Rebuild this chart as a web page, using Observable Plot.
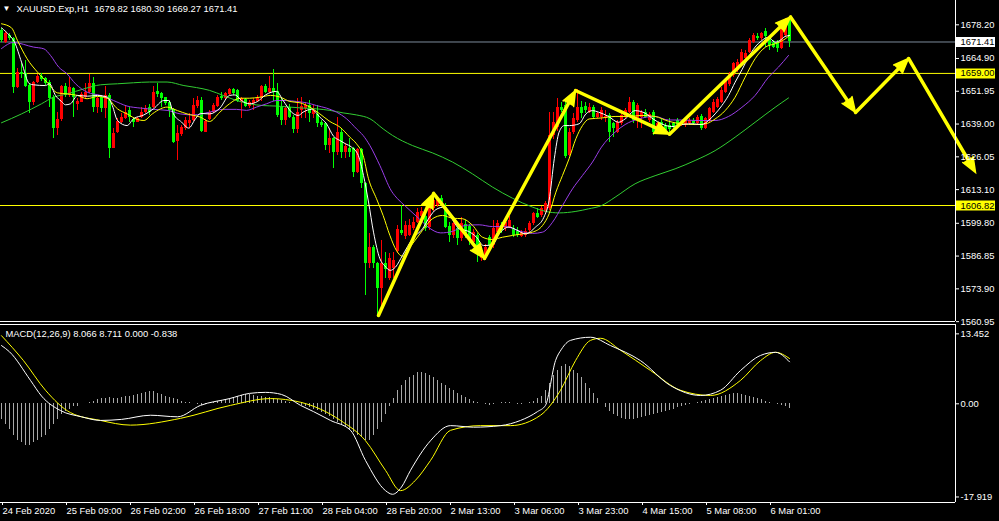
<!DOCTYPE html>
<html><head><meta charset="utf-8">
<script src="https://cdn.jsdelivr.net/npm/d3@7"></script>
<script src="https://cdn.jsdelivr.net/npm/@observablehq/plot@0.6"></script>
<style>
html,body{margin:0;padding:0;background:#000;}
#chart{position:relative;width:999px;height:521px;background:#000;overflow:hidden;}
#chart svg{display:block;overflow:visible;}
</style></head><body><div id="chart"></div>
<script>
// ---------- DATA ----------
const opens = [
1676.0,1671.4,1674.0,1672.7,1653.6,1659.5,1658.8,1654.2,1647.4,1655.5,
1657.8,1656.9,1655.5,1649.6,1637.1,1640.6,1653.8,1650.3,1652.9,1646.6,
1647.6,1649.6,1651.6,1654.9,1645.7,1649.6,1645.0,1650.3,1629.5,1635.5,
1639.8,1641.3,1644.3,1640.8,1639.8,1641.7,1643.4,1645.7,1645.7,1651.9,
1650.9,1649.4,1647.4,1644.6,1632.1,1634.7,1637.1,1639.1,1640.4,1646.1,
1648.3,1635.8,1640.8,1643.7,1646.1,1649.9,1649.2,1650.5,1652.7,1652.3,
1647.4,1648.7,1646.1,1647.0,1647.9,1649.0,1654.0,1651.6,1653.2,1651.9,
1645.5,1640.4,1645.7,1641.7,1636.9,1644.4,1645.3,1646.3,1642.6,1642.6,
1639.8,1639.1,1630.5,1633.2,1627.6,1635.8,1627.6,1629.2,1629.5,1620.0,
1629.0,1615.4,1583.8,1590.4,1583.8,1574.2,1583.8,1577.9,1581.8,1588.8,
1597.0,1594.5,1595.0,1597.6,1600.2,1602.5,1602.5,1598.3,1605.6,1606.8,
1609.7,1606.2,1598.6,1595.0,1597.6,1593.7,1599.2,1598.6,1592.3,1595.0,
1586.0,1585.8,1594.3,1591.0,1596.3,1599.0,1597.6,1598.3,1597.6,1596.5,
1594.7,1595.0,1597.0,1599.6,1603.5,1602.9,1604.2,1605.5,1634.5,1637.8,
1645.7,1646.3,1626.6,1635.8,1640.4,1645.7,1646.1,1643.7,1645.6,1641.4,
1641.7,1641.0,1642.4,1639.1,1635.8,1639.1,1641.7,1643.7,1647.6,1641.0,
1641.7,1643.7,1640.4,1643.7,1637.1,1639.7,1638.4,1638.4,1639.1,1640.4,
1638.4,1638.4,1639.1,1640.4,1639.1,1642.0,1637.1,1640.4,1643.7,1645.6,
1647.6,1651.6,1654.6,1658.2,1660.1,1662.8,1664.8,1667.4,1671.3,1673.7,
1672.7,1675.7,1672.7,1671.3,1671.3,1668.7,1674.0,1679.82];
const highs = [
1676.6,1675.6,1674.6,1673.3,1660.8,1662.8,1664.1,1654.9,1655.8,1658.4,
1658.9,1657.5,1656.2,1650.3,1643.7,1654.2,1654.9,1657.5,1653.6,1649.0,
1651.6,1654.9,1658.4,1657.5,1649.6,1650.3,1654.0,1650.9,1637.4,1641.1,
1643.0,1646.3,1645.7,1641.7,1641.7,1645.7,1646.3,1646.6,1654.0,1654.9,
1651.6,1649.6,1648.3,1645.0,1638.4,1638.4,1641.7,1643.0,1649.0,1650.0,
1649.6,1640.8,1644.4,1647.0,1650.3,1651.3,1651.6,1652.9,1652.9,1652.7,
1649.6,1649.2,1648.3,1649.0,1650.3,1654.2,1654.5,1657.8,1660.6,1654.9,
1649.0,1646.1,1646.6,1642.4,1649.0,1649.6,1647.4,1648.3,1646.3,1646.3,
1640.4,1639.8,1637.1,1633.8,1641.7,1637.1,1631.2,1633.2,1629.9,1629.2,
1629.2,1616.0,1595.6,1591.0,1584.4,1593.0,1588.1,1587.7,1588.4,1598.9,
1606.8,1600.5,1601.3,1602.2,1605.8,1606.0,1604.0,1607.5,1612.1,1610.1,
1610.8,1607.5,1600.2,1601.6,1600.2,1602.0,1601.0,1599.2,1597.5,1595.6,
1590.5,1591.5,1595.0,1600.9,1600.9,1600.2,1601.3,1602.3,1598.9,1598.0,
1597.0,1597.6,1600.5,1604.2,1605.8,1606.5,1608.6,1643.7,1643.7,1649.2,
1647.4,1648.3,1637.1,1643.0,1652.7,1647.9,1647.4,1647.0,1646.3,1643.7,
1645.6,1644.3,1643.0,1639.7,1640.4,1643.0,1645.0,1649.3,1648.3,1647.0,
1644.3,1644.6,1643.7,1644.3,1639.7,1640.7,1639.1,1641.0,1639.7,1641.0,
1640.4,1641.0,1641.0,1641.0,1642.4,1642.8,1641.7,1645.6,1648.5,1649.3,
1653.6,1656.9,1659.5,1663.4,1664.4,1668.3,1668.0,1672.7,1674.9,1674.6,
1675.3,1676.6,1673.3,1672.0,1672.0,1679.2,1680.6,1680.30];
const lows = [
1671.4,1670.7,1672.0,1651.0,1653.2,1656.9,1653.6,1643.1,1646.3,1654.9,
1655.8,1654.2,1645.7,1633.2,1634.5,1640.0,1649.6,1649.6,1641.7,1644.3,
1647.4,1649.0,1651.0,1643.7,1643.0,1643.7,1641.3,1625.3,1629.2,1635.1,
1639.1,1640.8,1639.8,1637.8,1639.5,1641.3,1643.0,1642.4,1645.0,1649.6,
1645.7,1646.3,1641.7,1631.2,1624.6,1634.2,1636.5,1637.1,1640.0,1645.0,
1635.8,1635.5,1640.4,1643.0,1645.7,1648.3,1648.7,1650.3,1650.3,1647.4,
1641.3,1645.7,1645.3,1644.4,1647.4,1647.9,1651.0,1651.0,1647.9,1641.7,
1638.4,1638.4,1641.1,1635.1,1635.1,1641.3,1641.1,1639.8,1641.1,1637.8,
1637.8,1628.6,1627.3,1621.3,1626.6,1625.3,1625.3,1625.9,1618.0,1619.3,
1613.7,1571.3,1581.8,1581.8,1562.7,1564.7,1577.9,1577.2,1577.9,1588.0,
1595.0,1593.5,1594.4,1597.0,1599.6,1601.0,1596.5,1597.0,1604.5,1606.0,
1606.5,1597.6,1592.3,1593.6,1591.0,1592.5,1593.7,1591.0,1591.0,1584.4,
1584.8,1585.0,1589.7,1590.0,1595.6,1595.6,1596.5,1597.6,1594.3,1594.0,
1594.0,1594.3,1596.3,1599.0,1601.5,1602.0,1603.5,1604.8,1633.0,1636.0,
1643.7,1625.3,1626.0,1635.0,1639.8,1641.0,1643.0,1643.0,1641.0,1641.0,
1640.4,1639.7,1631.8,1633.8,1635.1,1638.4,1641.0,1643.0,1639.1,1637.1,
1637.1,1641.0,1639.7,1634.5,1636.4,1637.5,1635.4,1635.1,1637.1,1637.8,
1638.0,1637.8,1638.4,1638.4,1638.4,1636.4,1636.7,1639.7,1643.0,1645.0,
1647.0,1650.9,1653.8,1657.5,1659.5,1662.1,1664.1,1666.7,1670.7,1672.0,
1672.0,1669.4,1668.0,1668.7,1667.4,1668.3,1673.3,1669.27];
const closes = [
1672.0,1674.6,1672.7,1653.6,1659.5,1658.5,1654.0,1647.4,1655.5,1657.8,
1656.6,1655.2,1649.2,1637.1,1640.8,1653.8,1650.3,1653.6,1649.6,1647.9,
1650.5,1651.3,1654.9,1645.7,1649.0,1645.0,1650.3,1629.5,1635.1,1640.0,
1641.7,1643.7,1641.7,1639.8,1641.1,1643.7,1645.3,1643.7,1651.3,1650.7,
1649.0,1647.0,1644.3,1631.8,1635.1,1637.8,1640.4,1640.4,1646.3,1648.3,
1636.1,1640.0,1643.7,1646.3,1649.6,1649.0,1650.9,1652.7,1650.9,1647.9,
1649.0,1646.1,1647.7,1648.3,1649.0,1654.0,1651.6,1653.2,1651.6,1642.4,
1640.4,1645.3,1641.7,1636.9,1643.7,1646.1,1646.3,1643.0,1644.4,1639.1,
1638.4,1630.5,1633.2,1627.6,1635.5,1627.6,1630.3,1627.9,1619.7,1629.0,
1615.4,1583.8,1590.4,1583.8,1574.2,1583.8,1581.5,1585.8,1585.1,1597.2,
1595.6,1599.0,1599.0,1600.2,1603.9,1604.5,1597.6,1606.2,1608.8,1609.7,
1608.0,1598.3,1595.0,1599.6,1593.7,1599.6,1595.6,1593.4,1596.3,1587.3,
1589.0,1590.4,1591.0,1597.6,1599.6,1597.0,1600.2,1600.9,1595.0,1595.0,
1596.3,1596.5,1599.6,1603.5,1602.2,1605.5,1607.5,1634.5,1639.8,1645.7,
1644.3,1626.3,1635.8,1641.3,1645.7,1643.0,1644.3,1645.7,1641.7,1643.0,
1644.3,1642.0,1635.8,1637.1,1639.7,1642.4,1644.3,1647.6,1640.4,1646.3,
1643.7,1641.7,1642.8,1635.8,1639.1,1638.4,1636.4,1636.7,1637.8,1638.4,
1639.7,1640.4,1640.4,1639.1,1641.7,1637.1,1641.0,1645.0,1647.6,1648.5,
1652.2,1655.9,1658.6,1662.8,1663.4,1667.4,1666.7,1672.0,1674.0,1672.7,
1674.6,1673.6,1670.0,1669.4,1668.7,1677.9,1679.9,1671.41];

// moving averages: [bar index, price]
const maWhite = [[0,1677],[2,1674.0],[3.25,1671.4],[5,1663.5],[7,1654.9],[8,1654.5],[11,1654.2],[12,1654.9],[13.5,1650.3],[15,1647.9],[16,1646.6],[17.25,1647.0],[19,1650.3],[21.5,1650.0],[24,1650.3],[26.5,1649.6],[27.7,1646.3],[29,1640.4],[31.4,1638.4],[33,1641.1],[35.6,1642.6],[38,1645.0],[40.6,1648.3],[41.8,1648.3],[43,1643.0],[45,1639.8],[46.8,1637.4],[48.5,1641.1],[49.75,1643.2],[52,1643.0],[54.6,1645.3],[57,1650.3],[58.4,1650.5],[60,1648.3],[62,1647.0],[64,1647.9],[66,1650.5],[68.75,1651.9],[70.4,1648.3],[72.5,1643.7],[74.2,1642.4],[75.4,1643.7],[77.5,1644.8],[79.6,1641.7],[81.25,1639.1],[83,1634.2],[84.6,1632.5],[86,1631.2],[87.5,1629.9],[89.2,1626.6],[90.5,1618.7],[91.75,1608.2],[93,1596.3],[94.6,1585.8],[95.8,1583],[97.2,1581.2],[98.5,1582.5],[100.25,1587.1],[102.75,1593.7],[105.25,1597.6],[107,1602.2],[108.6,1605.2],[110.7,1606.2],[112.75,1601.3],[114.4,1597.6],[116.75,1596.6],[118.75,1594.3],[120.5,1591.0],[122.75,1591.3],[124.4,1595.6],[126.9,1598.3],[128.6,1597.3],[131,1595.6],[133.5,1598.3],[135.6,1602.2],[136.9,1608.8],[138.2,1625.3],[139.4,1635.8],[140.7,1638.4],[142,1638.4],[144.4,1639.1],[146.1,1643.0],[147.75,1644.3],[149.25,1643.7],[151.75,1642.0],[154.25,1639.7],[155.9,1641.0],[158.4,1644.3],[160.9,1643.3],[162.9,1641.0],[165,1639.1],[167.6,1638.0],[170,1638.8],[172.6,1639.1],[175.1,1638.8],[176.75,1640.4],[178.4,1643.0],[180.1,1646.3],[181.75,1650.3],[183.4,1655.5],[185.1,1660.4],[186.75,1665.4],[188.4,1669.4],[190.1,1672.0],[191.75,1673.3],[193.4,1671.3],[194.6,1672.0],[195.9,1673.6],[197,1674.0]];
const maYellow = [[0,1678.6],[2.5,1677],[4,1672.0],[6.4,1664.8],[9,1659.5],[11.4,1655.5],[14,1651.3],[16.4,1650.9],[19,1650.3],[21.4,1649.0],[24,1649.9],[26.4,1649.2],[29,1645.0],[31.4,1643.0],[34,1640.8],[35.6,1640.4],[37.7,1643.0],[39.75,1645.0],[41.4,1645.7],[44,1644.3],[46.4,1643.0],[49.75,1641.7],[52,1640.0],[54.6,1643.7],[57,1647.0],[59.6,1649.2],[62,1649.2],[64.6,1649.6],[67.25,1650.3],[69.75,1649.6],[72.1,1647.9],[74.6,1647.4],[77.1,1645.7],[79.6,1643.0],[82.1,1640.0],[84.6,1637.8],[87.1,1633.8],[88.75,1631.2],[90.4,1626.6],[91.75,1617.4],[93.75,1609.5],[95.4,1602.9],[97.1,1595.0],[98.75,1589],[100.2,1586.8],[102.75,1591.7],[105.25,1597.0],[107.75,1601.6],[110.25,1602.9],[112.75,1601.8],[115.25,1601.6],[117.75,1599.0],[120.25,1594.3],[122.75,1593.4],[125.25,1594.3],[127.75,1595.0],[130.25,1595.6],[132.75,1596.3],[135.25,1598.9],[136.9,1603.5],[138.6,1612.1],[140.25,1618.7],[141.9,1625.3],[143.6,1633.2],[145.25,1638.4],[146.9,1641.0],[150,1641.4],[153.4,1642.0],[156.75,1642.0],[160.1,1642.4],[163.4,1642.0],[166.75,1640.1],[170,1639.1],[173.4,1638.8],[176,1639.1],[178.4,1641.0],[180.9,1644.3],[183.4,1649.6],[185.9,1657.5],[188.4,1664.8],[191,1669.4],[193.4,1670.7],[195.9,1672.6],[197,1674.0]];
const maPurple = [[0,1668.8],[3,1671.2],[8,1669.4],[10.6,1668.7],[12.25,1666.1],[14.3,1661.5],[16.4,1658.8],[18.5,1654.9],[21.4,1651.6],[24.75,1650.3],[28,1648.3],[31.4,1646.1],[34.75,1645.3],[38,1644.8],[41.4,1644.4],[44.75,1643.0],[48,1642.6],[52,1643.7],[55.4,1644.8],[58.75,1644.8],[61.25,1644.4],[63.75,1645.7],[66.25,1647.0],[68.75,1648.3],[71.25,1648.3],[73.75,1647.9],[76.25,1647.4],[78.75,1646.3],[81.25,1645.3],[83.75,1643.7],[86.25,1641.1],[88.75,1637.1],[90.4,1634.5],[92.1,1630.5],[94.6,1622.6],[97.5,1612.5],[99,1609.5],[101,1606.5],[104.4,1601.6],[106.9,1598.0],[109.8,1596.0],[112.75,1596.6],[116,1599.0],[119.4,1599.2],[122.75,1598.5],[126,1598.5],[129.4,1596.8],[132.75,1595.8],[135.25,1596.3],[137.75,1600.2],[140.25,1606.8],[142.75,1613.4],[145.25,1618.7],[147.75,1624.0],[150,1629.9],[153.4,1635.8],[155.9,1638.8],[159.25,1641.0],[163.4,1642.0],[166.75,1640.6],[170,1640.6],[174.25,1640.4],[178.4,1640.4],[181.75,1642.0],[185.1,1645.6],[188.4,1650.3],[191.75,1657.5],[194.25,1661.5],[196.75,1666.1]];
const maGreen = [[0,1639.5],[5,1643.0],[10,1647.0],[13,1649.6],[16.4,1650.9],[20.6,1652.9],[24.75,1654.5],[29,1654.9],[33,1655.3],[37,1655.6],[41.4,1655.6],[45.6,1654.2],[48.75,1653.4],[52,1652.3],[55.4,1650.3],[58.75,1648.3],[62,1647.0],[65.4,1646.3],[68.75,1646.1],[72.1,1645.7],[75.4,1645.3],[78.75,1645.0],[82.1,1644.4],[85.4,1643.4],[88.75,1642.6],[92.1,1641.1],[95.4,1637.1],[97.75,1634.5],[102.75,1630.5],[107.75,1627.6],[112.75,1624.0],[117.75,1619.3],[122.75,1614.1],[127.75,1609.7],[132.75,1606.2],[136,1604.5],[139.4,1603.9],[143.6,1604.5],[146.75,1605.5],[150,1606.8],[153.4,1610.1],[158.4,1615.4],[163.4,1618.6],[168.4,1621.3],[173.4,1624.6],[178.4,1628.5],[183.4,1633.8],[188.4,1639.7],[193.4,1645.6],[196.75,1649.3]];

// hand-drawn zigzag arrows: [bar index, price]
const zigzag = [[94.25,1563.4],[108,1611.6],[120.75,1585.9],[143.5,1652.25],[167,1635],[197.25,1681.3],[213.5,1643.6],[226.75,1664.9],[243.5,1619.9]];

const bidPrice = 1671.41;
const levelPrices = [1659.00, 1606.82];
const priceTicks = [1678.20,1664.90,1651.95,1639.00,1626.05,1613.10,1599.80,1586.85,1573.90,1560.95];

// MACD panel
const macdHist = [
-3,-4,-5,-6,
-7,-7.5,-8,-8,-7.5,-7,-6.5,-6,-5,
-4,-3,-2,-1.5,
-1,-0.5,-0.5,0,0,0.3,0.5,
0.8,1,1,1.2,1,1,1.2,1.4,1.5,1.6,
1.8,2,2.2,2.4,2.3,2,1.8,
1.5,1.2,1,0.8,0.5,0.3,0.2,0,-0.2,-0.3,-0.2,0,0.2,0.4,0.6,
0.8,1,1.2,1.4,1.6,1.8,1.8,1.6,1.5,1.4,
1.3,1.2,1,0.8,0.6,0.4,0.2,0,-0.2,-0.4,
-0.6,-0.8,-1,-1.3,-1.6,
-2,-2.5,-3,-3.5,-4,-4.5,-5,-5.5,-6,-6.5,-7,-7,
-6,-5,-3.5,-2,
-0.5,1,2.5,3.5,
4.5,5,5.5,6,6,5.8,5.5,5,4.5,4,
3.5,3,2.5,2,1.6,1.2,0.8,0.5,
0.3,0,-0.2,-0.3,-0.2,0,0.2,0.3,0.2,0,-0.2,-0.1,0,0.2,0.5,
1,1.5,2.5,4,
5.5,6.5,7.2,7.5,7.2,6.5,5.8,5,
4,3,2,1,0,
-0.8,-1.5,-2,-2.5,-2.8,-3,-3,-3,-2.8,-2.6,-2.4,-2.2,-2,-1.8,-1.6,-1.4,-1.2,-1,-0.8,-0.6,
-0.4,-0.2,0,0.2,0.4,0.6,
0.8,1,1.2,1.4,1.6,1.8,2,2,1.8,1.6,1.4,1.2,1,
0.8,0.5,0.2,0,-0.2,-0.4,-0.6,-0.84];
const macdMain = [[0,11.2],[2,10],[7.25,4.5],[10,1.5],[14.75,-1.3],[20,-2.5],[24.75,-3.2],[30,-3],[37.25,-2.2],[44,-2.5],[49.75,-0.3],[57,1],[62,2],[66,2.2],[70,1.8],[74.75,-0.3],[78,-1.5],[82.25,-3.2],[87.25,-5.1],[91,-10.9],[96,-16.7],[97.75,-17.4],[100,-16],[102.25,-12.8],[107.25,-7.1],[112.25,-4.2],[118,-4.5],[124.75,-4.2],[129.75,-3.2],[134,-1.5],[136,-0.3],[138.5,8.3],[140,10.5],[142.25,12.2],[147.25,12.8],[152.25,11.2],[159.75,8.3],[167.25,3.5],[174.75,1.6],[179.75,2.6],[184.75,6.4],[189.75,9.3],[193.5,9.9],[197,8.07]];
const macdSignal = [[0,13.1],[5.5,8.3],[11,2.6],[17.25,-1.7],[24.75,-3.2],[32.25,-4.1],[44.75,-2.8],[57.25,-0.3],[67.25,1.0],[74.75,0.3],[84.75,-3.2],[91,-7.1],[96,-12.8],[99.75,-16.7],[103.5,-14.7],[107.25,-10.9],[112.25,-5.1],[119.75,-4.2],[127.25,-4.2],[134.75,-2.2],[139.75,2.6],[143.5,8.3],[147.25,12.2],[149.75,12.6],[154.75,10.3],[162.25,6.4],[169.75,2.6],[177.25,1.6],[184.75,4.5],[189.75,8.3],[193.5,9.9],[197,8.71]];
const macdTicks = [13.452, 0, -17.919];
const macdTickLabels = ["13.452", "0.00", "-17.919"];

const timeTickBars = [0,16,32,48,64,80,96,112,128,144,160,176,192];
const timeTickLabels = ["24 Feb 2020","25 Feb 09:00","26 Feb 02:00","26 Feb 18:00","27 Feb 11:00","28 Feb 04:00","28 Feb 20:00","2 Mar 13:00","3 Mar 06:00","3 Mar 23:00","4 Mar 15:00","5 Mar 08:00","6 Mar 01:00"];

const headerText = "XAUUSD.Exp,H1\u00a0\u00a01679.82 1680.30 1669.27 1671.41";
const macdText = "MACD(12,26,9) 8.066 8.711 0.000 -0.838";

// ---------- BUILD ----------
const bars = opens.map((o, i) => ({i, o, h: highs[i], l: lows[i], c: closes[i]}));
const upBars = bars.filter(d => d.c >= d.o);
const downBars = bars.filter(d => d.c < d.o);

const X_DOMAIN = [-0.25, 238.5];
const PX_PER_BAR = 4;
const FONT = "'Liberation Sans', Arial, sans-serif";
const FS = "9.4px";
const RED = "#ff0000", GREEN = "#00ff00", YEL = "#ffff00";
const fmt2 = d3.format(".2f");

const priceTop = 1687.8, pxPerUnit = 0.395;
const mainH = 322;
const yDomain = [priceTop - (mainH - 1) * pxPerUnit, priceTop];

// arrow segments (shaft + filled head rotated to the on-screen direction)
const segs = zigzag.slice(1).map((p, k) => {
  const a = zigzag[k];
  const dxPx = (p[0] - a[0]) * PX_PER_BAR;
  const dyPx = -(p[1] - a[1]) / pxPerUnit;
  return {x1: a[0], y1: a[1], x2: p[0], y2: p[1], rot: Math.atan2(dxPx, -dyPx) * 180 / Math.PI};
});

const lineOpts = (stroke) => ({x: d => d[0], y: d => d[1], stroke, strokeWidth: 1, curve: "monotone-x"});

const main = Plot.plot({
  width: 999, height: mainH,
  marginLeft: 0, marginRight: 44, marginTop: 0, marginBottom: 1,
  x: {domain: X_DOMAIN, axis: null, label: null},
  y: {domain: yDomain, label: null},
  style: {background: "#000", color: "#fff", fontFamily: FONT, fontSize: FS, overflow: "visible"},
  marks: [
    Plot.ruleY([bidPrice], {stroke: "#7b8a9b", strokeWidth: 1}),
    Plot.ruleY(levelPrices, {stroke: YEL, strokeWidth: 1}),
    Plot.ruleX(upBars, {x: "i", y1: "l", y2: "h", stroke: RED, strokeWidth: 1, shapeRendering: "crispEdges"}),
    Plot.ruleX(downBars, {x: "i", y1: "l", y2: "h", stroke: GREEN, strokeWidth: 1, shapeRendering: "crispEdges"}),
    Plot.rect(upBars, {x1: d => d.i - 0.3, x2: d => d.i + 0.45, y1: "o", y2: "c", fill: RED, shapeRendering: "crispEdges"}),
    Plot.rect(downBars, {x1: d => d.i - 0.3, x2: d => d.i + 0.45, y1: "o", y2: "c", fill: GREEN, shapeRendering: "crispEdges"}),
    Plot.line(maGreen, lineOpts("#32cd32")),
    Plot.line(maPurple, lineOpts("#9a3ee8")),
    Plot.line(maYellow, lineOpts(YEL)),
    Plot.line(maWhite, lineOpts("#ffffff")),
    Plot.arrow(segs, {x1: "x1", y1: "y1", x2: "x2", y2: "y2", stroke: YEL, strokeWidth: 3.5, headLength: 0, insetEnd: 8}),
    Plot.vector(segs, {x: "x2", y: "y2", rotate: "rot", length: 15, r: 6, shape: "spike", anchor: "end", fill: YEL, stroke: YEL, strokeWidth: 1.5, strokeLinejoin: "miter"}),
    // right border and bottom border
    Plot.ruleX([X_DOMAIN[1]], {stroke: "#fff"}),
    Plot.ruleY([yDomain[0]], {stroke: "#fff"}),
    Plot.axisY(priceTicks, {anchor: "right", tickSize: 3, tickPadding: 2, tickFormat: fmt2, fill: "#fff", stroke: "#fff", label: null}),
    // highlighted price labels
    Plot.ruleY([bidPrice], {stroke: "#ffffff", strokeWidth: 10, dx: 956, insetRight: 916}),
    Plot.ruleY(levelPrices, {stroke: YEL, strokeWidth: 10, dx: 956, insetRight: 916}),
    Plot.text([bidPrice, ...levelPrices], {y: d => d, text: d => fmt2(d), frameAnchor: "right", dx: 5, textAnchor: "start", fill: "#000"}),
    // header
    Plot.text(["\u25BC"], {frameAnchor: "top-left", dx: 6, dy: 8, lineAnchor: "middle", textAnchor: "middle", fontSize: 8, fill: "#fff"}),
    Plot.text([headerText], {frameAnchor: "top-left", dx: 16, dy: 8, lineAnchor: "middle", textAnchor: "start", fill: "#fff"})
  ]
});

const macdH = 521 - mainH;
const macdPxPerUnit = 5.2;
const macdTopPx = 2, macdBottomPx = macdH - 19, zeroLocal = 81.3;
const macdDomain = [-(macdBottomPx - zeroLocal) / macdPxPerUnit, (zeroLocal - macdTopPx) / macdPxPerUnit];
const hist = macdHist.map((v, i) => ({i, v}));
const tickLabelMap = new Map(timeTickBars.map((b, k) => [b, timeTickLabels[k]]));
const macdLabelMap = new Map(macdTicks.map((t, k) => [t, macdTickLabels[k]]));

const macd = Plot.plot({
  width: 999, height: macdH,
  marginLeft: 0, marginRight: 44, marginTop: macdTopPx, marginBottom: macdH - macdBottomPx,
  x: {domain: X_DOMAIN, label: null},
  y: {domain: macdDomain, label: null},
  style: {background: "#000", color: "#fff", fontFamily: FONT, fontSize: FS, overflow: "visible"},
  marks: [
    Plot.ruleX(hist, {x: "i", y1: 0, y2: "v", stroke: "#a8a8a8", strokeWidth: 1, shapeRendering: "crispEdges"}),
    Plot.line(macdSignal, lineOpts(YEL)),
    Plot.line(macdMain, lineOpts("#ffffff")),
    Plot.ruleX([X_DOMAIN[1]], {stroke: "#fff"}),
    Plot.ruleY([macdDomain[1]], {stroke: "#fff"}),
    Plot.ruleY([macdDomain[0]], {stroke: "#fff"}),
    Plot.axisY(macdTicks, {anchor: "right", tickSize: 3, tickPadding: 2, tickFormat: d => macdLabelMap.get(d), fill: "#fff", stroke: "#fff", label: null}),
    Plot.axisX(timeTickBars, {anchor: "bottom", tickSize: 3, tickPadding: 2, textAnchor: "start", dx: 1, tickFormat: d => tickLabelMap.get(d), fill: "#fff", stroke: "#fff", label: null}),
    Plot.text([macdText], {frameAnchor: "top-left", dx: 5, dy: 9, lineAnchor: "middle", textAnchor: "start", fill: "#fff"})
  ]
});

const host = document.getElementById("chart");
host.appendChild(main);
host.appendChild(macd);
</script>
</body></html>
